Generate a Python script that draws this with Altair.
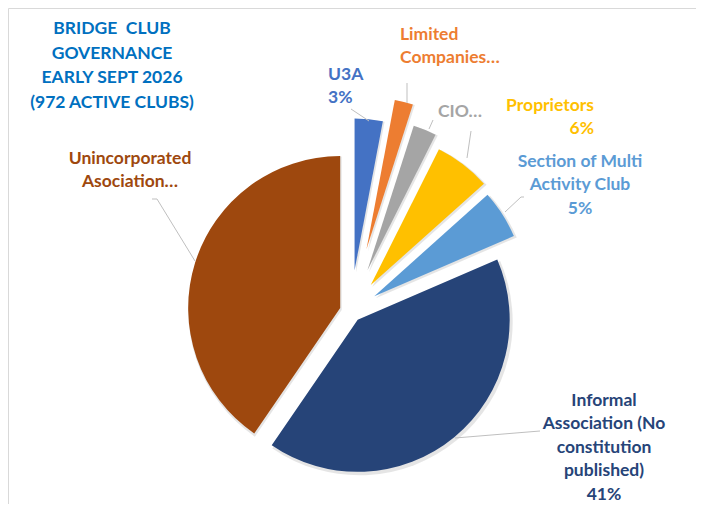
"""Bridge club governance pie chart (exploded), Excel-style."""

import math

import pandas as pd
import altair as alt

# ---- data -------------------------------------------------------------
categories = [
    'U3A',
    'Limited Companies',
    'CIO',
    'Proprietors',
    'Section of Multi Activity Club',
    'Informal Association (No constitution published)',
    'Unincorporated Asociation',
]
clubs = [29, 19, 24, 58, 50, 399, 393]

title_lines = ['BRIDGE \u00a0CLUB', 'GOVERNANCE', 'EARLY SEPT 2026', '(972 ACTIVE CLUBS)']

# text shown on each data label (Excel truncates some of them)
label_lines = {
    'U3A': ['U3A', '3%'],
    'Limited Companies': ['Limited', 'Companies…'],
    'CIO': ['CIO…'],
    'Proprietors': ['Proprietors', '6%'],
    'Section of Multi Activity Club': ['Section of Multi', 'Activity Club', '5%'],
    'Informal Association (No constitution published)':
        ['Informal', 'Association (No', 'constitution', 'published)', '41%'],
    'Unincorporated Asociation': ['Unincorporated', 'Asociation…'],
}

# ---- styles / layout ----------------------------------------------------
W, H = 688, 496
CX, CY = 342.7, 303.3      # pie centre inside the view
R = 152
LINE_H = 23.4
FONT_SIZE = 17.5

colors = ['#4472C4', '#ED7D31', '#A5A5A5', '#FFC000', '#5B9BD5', '#264478', '#9E480E']
explode = [41, 64, 44, 33, 28, 11, 11]

# label anchor (x, first line y, align) in view pixels
label_pos = {
    'U3A': (320, 67, 'left'),
    'Limited Companies': (392, 27, 'left'),
    'CIO': (430, 104, 'left'),
    'Proprietors': (586, 98, 'right'),
    'Section of Multi Activity Club': (572, 154, 'center'),
    'Informal Association (No constitution published)': (596, 393, 'center'),
    'Unincorporated Asociation': (122, 151, 'center'),
}

# leader lines, view pixels
leaders = {
    'U3A': [(343, 101), (361, 113)],
    'Limited Companies': [(399, 75), (399, 95)],
    'CIO': [(425, 112), (421, 121)],
    'Proprietors': [(463, 123), (459, 150)],
    'Section of Multi Activity Club': [(516, 189), (513, 189), (497, 204)],
    'Informal Association (No constitution published)': [(532, 423), (447, 430)],
    'Unincorporated Asociation': [(144, 191), (149, 191), (187, 253)],
}

slices = pd.DataFrame({
    'category': categories,
    'clubs': clubs,
    'idx': range(len(categories)),
    'explode': explode,
})

text_rows = []
for i, line in enumerate(title_lines):
    text_rows.append({'text': line, 'x': 104, 'y': 21 + i * 24.6,
                      'align': 'center', 'color': '#0070C0'})
for cat, col in zip(categories, colors):
    x0, y0, al = label_pos[cat]
    for i, line in enumerate(label_lines[cat]):
        text_rows.append({'text': line, 'x': x0, 'y': y0 + i * LINE_H,
                          'align': al, 'color': col})
texts = pd.DataFrame(text_rows)

leader_rows = []
for cat, pts in leaders.items():
    for j, (x, y) in enumerate(pts):
        leader_rows.append({'category': cat, 'order': j, 'x': x, 'y': y})
leader_df = pd.DataFrame(leader_rows)

xs = alt.Scale(domain=[0, W], nice=False, zero=False)
ys = alt.Scale(domain=[0, H], nice=False, zero=False, reverse=True)
total = sum(clubs)

color = alt.Color('category:N', scale=alt.Scale(domain=categories, range=colors),
                  legend=None)

base = (
    alt.Chart(slices)
    .transform_window(end='sum(clubs)', sort=[alt.SortField('idx')])
    .transform_calculate(
        start='datum.end - datum.clubs',
        mid=f'(datum.end - datum.clubs / 2) / {total} * 2 * PI',
    )
    .transform_calculate(
        px=f'{CX} + datum.explode * sin(datum.mid)',
        py=f'{CY} - datum.explode * cos(datum.mid)',
        spx=f'{CX} + 1.5 + datum.explode * sin(datum.mid)',
        spy=f'{CY} + 2 - datum.explode * cos(datum.mid)',
    )
)

theta = alt.Theta('start:Q', stack=False,
                  scale=alt.Scale(domain=[0, total], range=[0, 2 * math.pi]))

shadow = base.mark_arc(radius=R + 1.5, color='#000000', opacity=0.10).encode(
    x=alt.X('spx:Q', scale=xs, axis=None, stack=False),
    y=alt.Y('spy:Q', scale=ys, axis=None, stack=False),
    theta=theta,
    theta2='end:Q',
)

pie = base.mark_arc(radius=R).encode(
    x=alt.X('px:Q', scale=xs, axis=None, stack=False),
    y=alt.Y('py:Q', scale=ys, axis=None, stack=False),
    theta=theta,
    theta2='end:Q',
    color=color,
    tooltip=['category:N', 'clubs:Q'],
)

lines = alt.Chart(leader_df).mark_line(color='#BFBFBF', strokeWidth=1).encode(
    x=alt.X('x:Q', scale=xs, axis=None),
    y=alt.Y('y:Q', scale=ys, axis=None),
    detail='category:N',
    order='order:Q',
)

label_layers = []
for al in ['left', 'center', 'right']:
    label_layers.append(
        alt.Chart(texts[texts['align'] == al])
        .mark_text(font='Lato', fontSize=FONT_SIZE, fontWeight='bold', align=al,
                   baseline='middle')
        .encode(
            x=alt.X('x:Q', scale=xs, axis=None),
            y=alt.Y('y:Q', scale=ys, axis=None),
            text='text:N',
            color=alt.Color('color:N', scale=None),
        )
    )

chart = (
    alt.layer(shadow, pie, lines, *label_layers)
    .properties(width=W, height=H, padding=0, autosize='none',
                background='white')
    .configure_view(stroke='#D9D9D9', strokeWidth=1)
)

chart.save("out.html", embed_options={"renderer": "svg", "actions": False})
